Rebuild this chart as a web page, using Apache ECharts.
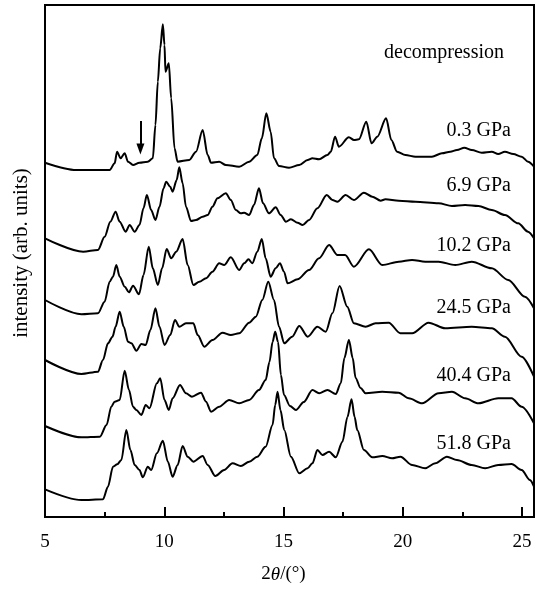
<!DOCTYPE html>
<html>
<head>
<meta charset="utf-8">
<script src="https://cdn.jsdelivr.net/npm/echarts@6/dist/echarts.min.js"></script>
<style>
html,body{margin:0;padding:0;background:#fff;}
#chart{width:537px;height:589px;}
</style>
</head>
<body>
<div id="chart"></div>
<script>
// Stacked XRD patterns (displayed intensity, arb. units) : [2theta, intensity]
const p03 = [[5.00,354.3],[6.32,347],[7.71,347],[7.92,353.7],[8.02,365.3],[8.17,358.7],[8.34,363.7],[8.48,355.3],[8.69,352],[8.96,354.3],[9.31,355.3],[9.52,358.7],[9.63,392],[9.73,435.3],[9.83,468.7],[9.94,492.7],[10.01,472],[10.05,445.3],[10.19,453.7],[10.29,418.7],[10.43,368.7],[10.56,355.3],[11.05,357],[11.33,365.3],[11.61,387],[11.82,362],[11.96,354.3],[12.30,355.3],[12.58,352],[13.14,350.3],[13.56,355.3],[13.90,362],[14.09,378.7],[14.28,403.7],[14.46,385.3],[14.60,358.7],[14.81,351],[15.23,349.3],[15.66,352],[16.01,357],[16.21,358.7],[16.49,357.7],[16.84,362],[16.98,365.3],[17.16,380.3],[17.32,370.3],[17.74,379.7],[17.95,377],[18.16,377.7],[18.47,395.3],[18.69,373.7],[18.93,380.3],[19.30,398.7],[19.52,377],[19.76,365.3],[20.11,362],[20.53,360.3],[21.22,360.3],[21.64,363.7],[21.99,365.3],[22.27,367],[22.58,369.3],[22.89,367],[23.31,364.3],[23.73,365.3],[24.00,363],[24.28,365.3],[24.63,363],[24.98,360.3],[25.25,355.3],[25.50,350.3]];
const p69 = [[5.00,278.7],[6.60,265.3],[7.22,267],[7.50,280.3],[7.74,295.3],[7.96,305.3],[8.13,295.3],[8.38,285.3],[8.55,292],[8.76,285.3],[8.96,292],[9.13,308.7],[9.27,322],[9.45,307],[9.63,297],[9.80,310.3],[9.97,328.7],[10.08,335.3],[10.25,330.3],[10.35,325.3],[10.52,337],[10.63,349.7],[10.77,333.7],[10.91,310.3],[11.12,296],[11.33,297],[11.61,300.3],[11.82,302],[12.02,310.3],[12.23,318.7],[12.58,323.7],[12.79,317],[13.00,307],[13.21,303.7],[13.35,304.3],[13.56,302],[13.76,312],[13.97,328.7],[14.14,313.7],[14.39,303.7],[14.67,309.7],[14.88,302],[15.10,295.3],[15.31,297.7],[15.59,294.3],[15.80,292],[16.07,297],[16.42,308.7],[16.81,322],[17.05,317],[17.26,315.3],[17.60,322],[17.95,317],[18.37,324.3],[18.72,320.3],[19.07,316.3],[19.27,317.7],[19.83,316.3],[20.53,315.3],[21.50,313.7],[22.06,311],[22.61,312],[23.17,311],[23.73,307],[24.28,302],[24.84,293.7],[25.25,285.3],[25.50,278.7]];
const p102 = [[5.00,217],[6.53,202.7],[7.22,203.7],[7.50,215.3],[7.71,235.3],[7.85,240.3],[7.99,252],[8.13,240.3],[8.34,230.3],[8.52,224.7],[8.69,231.3],[8.94,222.7],[9.13,242],[9.35,270.3],[9.52,248.7],[9.73,232],[9.91,248.7],[10.10,268],[10.29,258.7],[10.50,265.3],[10.77,278],[10.98,252],[11.22,232],[11.47,235.3],[11.75,238.7],[12.02,245.3],[12.30,253.7],[12.51,252],[12.79,259.7],[13.14,247],[13.35,253.7],[13.53,257.7],[13.69,253.7],[13.90,265.3],[14.09,278],[14.25,258.7],[14.46,240.3],[14.67,248.7],[14.85,253.7],[15.02,245.3],[15.17,233.7],[15.59,237.7],[16.07,247],[16.49,258.7],[16.91,272],[17.26,262],[17.58,262],[17.95,250.3],[18.58,267.7],[19.14,252],[19.83,255.3],[20.39,257],[20.94,255.3],[21.50,255.3],[22.20,252],[22.89,255.3],[23.73,248.7],[24.42,237],[25.12,220.3],[25.50,208.7]];
const p245 = [[5.00,157],[6.53,143],[7.22,145.3],[7.43,157],[7.64,173.7],[7.83,180.3],[7.96,190.3],[8.13,205.3],[8.30,190.3],[8.48,175.3],[8.62,173.7],[8.83,166.3],[9.04,173],[9.22,172],[9.42,187],[9.63,208.7],[9.80,190.3],[10.01,172],[10.25,182],[10.45,197],[10.63,190.3],[10.91,193.7],[11.22,193.7],[11.40,182],[11.68,170.3],[12.02,177],[12.44,184.3],[12.79,182],[13.14,183.7],[13.56,194.3],[13.84,200.3],[14.11,217],[14.36,235.3],[14.60,217],[14.81,190.3],[15.03,173.7],[15.36,180.3],[15.66,191],[16.01,180.3],[16.42,190.3],[16.77,185.3],[17.05,203.7],[17.35,231],[17.67,210.3],[17.95,193.7],[18.44,190.3],[18.86,193.7],[19.41,194.3],[19.90,183.7],[20.39,183.7],[21.08,194.3],[21.78,188.7],[22.89,190.3],[23.73,188.7],[24.28,180.3],[24.98,160.3],[25.50,140.3]];
const p404 = [[5.00,91],[6.53,79.7],[7.30,80.3],[7.58,92],[7.78,110.3],[7.92,115.3],[8.13,117],[8.34,146.3],[8.52,127],[8.69,110.3],[8.83,107],[9.04,102],[9.22,112],[9.38,108.7],[9.69,133.7],[9.83,138.7],[10.01,117],[10.19,107],[10.35,118.7],[10.66,132],[10.91,123.7],[11.16,120.3],[11.54,124.3],[11.75,115.3],[11.96,105.3],[12.30,110.3],[12.72,117],[13.14,113.7],[13.56,117],[13.97,127],[14.25,137],[14.41,155],[14.54,175],[14.65,185.3],[14.77,175],[14.89,142],[15.02,122],[15.27,111],[15.52,107],[15.85,115],[16.21,127],[16.49,123.7],[16.84,127],[17.19,123],[17.40,133.7],[17.55,159],[17.74,177],[17.90,159],[18.02,139],[18.23,129],[18.44,123.7],[19.14,125.3],[19.83,124.3],[20.25,118.7],[20.81,113.7],[21.50,123.7],[22.06,125.3],[22.61,118.7],[23.17,113.7],[24.00,118.7],[24.56,118.7],[24.98,110.3],[25.50,93.7]];
const p518 = [[5.00,27.7],[6.53,17],[7.43,17.7],[7.64,30.3],[7.85,50.3],[8.03,52.7],[8.20,57],[8.41,87],[8.58,67],[8.76,52],[8.96,47],[9.10,39.7],[9.31,50.3],[9.45,47],[9.69,63.7],[9.94,76.3],[10.15,55.3],[10.35,40.3],[10.56,52],[10.77,71],[10.98,60.3],[11.22,55.3],[11.61,61],[11.82,52],[12.14,41],[12.51,47],[12.86,53.7],[13.21,51],[13.56,55.3],[13.90,60.3],[14.25,70.3],[14.54,92],[14.65,112],[14.75,125.3],[14.87,107],[15.03,87],[15.31,60.3],[15.66,43.7],[16.01,48.7],[16.21,53.7],[16.42,67],[16.63,62],[16.91,65.3],[17.19,59.7],[17.47,75.3],[17.68,100],[17.85,117.7],[17.98,100],[18.09,87],[18.37,67],[18.72,59.7],[19.14,61],[19.55,58.7],[19.90,60.3],[20.39,52],[20.94,48.7],[21.36,53.7],[21.85,60.3],[22.27,57],[22.89,52],[23.45,48.7],[24.00,52],[24.56,53],[24.98,47],[25.33,37],[25.50,30.3]];

const patterns = [p03, p69, p102, p245, p404, p518];
const pressureLabels = ['0.3 GPa', '6.9 GPa', '10.2 GPa', '24.5 GPa', '40.4 GPa', '51.8 GPa'];
const labelY = [132, 187, 247, 309, 377, 445];
const titleText = 'decompression';
const xTicks = [5, 10, 15, 20, 25];
// arrow marking a weak reflection in the 0.3 GPa pattern: [2theta, from, to]
const arrowMark = [9.0, 396, 368];

const FONT = 'Liberation Serif';
const chart = echarts.init(document.getElementById('chart'), null, {renderer: 'canvas'});

const series = patterns.map((p, i) => {
  const s = {
    type: 'line',
    data: p,
    showSymbol: false,
    symbol: 'none',
    smooth: 0.3,
    smoothMonotone: 'x',
    lineStyle: {color: '#000', width: 2},
    silent: true,
    z: 3
  };
  if (i === 0) {
    s.markLine = {
      silent: true,
      symbol: ['none', 'triangle'],
      symbolSize: [8, 11],
      label: {show: false},
      lineStyle: {color: '#000', width: 2, type: 'solid'},
      data: [[{coord: [arrowMark[0], arrowMark[1]]}, {coord: [arrowMark[0], arrowMark[2]]}]]
    };
  }
  return s;
});

const graphics = pressureLabels.map((t, i) => ({
  type: 'text',
  right: 26,
  top: labelY[i] - 11,
  style: {text: t, font: '20px "' + FONT + '"', fill: '#000'}
}));
graphics.push({
  type: 'text',
  left: 384,
  top: 43,
  style: {text: titleText, font: '20px "' + FONT + '"', fill: '#000'}
});

chart.setOption({
  animation: false,
  backgroundColor: '#fff',
  grid: {left: 45, right: 1, top: 5, bottom: 72, show: true, borderColor: '#000', borderWidth: 2, backgroundColor: 'transparent'},
  xAxis: {
    type: 'value', min: 5, max: 25.5, interval: 5,
    axisLine: {show: true, lineStyle: {color: '#000', width: 2}},
    axisTick: {show: true, inside: true, length: 10, lineStyle: {color: '#000', width: 2}},
    minorTick: {show: true, splitNumber: 2, length: 5, lineStyle: {color: '#000', width: 2}},
    splitLine: {show: false},
    axisLabel: {color: '#000', fontFamily: FONT, fontSize: 19, margin: 16,
      formatter: v => (xTicks.indexOf(v) >= 0 ? String(v) : '')},
    name: '2{i|θ}/(°)',
    nameLocation: 'middle',
    nameGap: 48,
    nameTextStyle: {color: '#000', fontFamily: FONT, fontSize: 19, padding: [0, 12, 0, 0],
      rich: {i: {fontStyle: 'italic', fontFamily: FONT, fontSize: 19, color: '#000'}}}
  },
  yAxis: {
    type: 'value', min: 0, max: 512,
    axisLine: {show: true, lineStyle: {color: '#000', width: 2}},
    axisTick: {show: false},
    axisLabel: {show: false},
    splitLine: {show: false},
    name: 'intensity (arb. units)',
    nameLocation: 'middle',
    nameGap: 13,
    nameTextStyle: {color: '#000', fontFamily: FONT, fontSize: 21, padding: [0, 0, 0, 16]}
  },
  graphic: graphics,
  series: series
});
</script>
</body>
</html>
